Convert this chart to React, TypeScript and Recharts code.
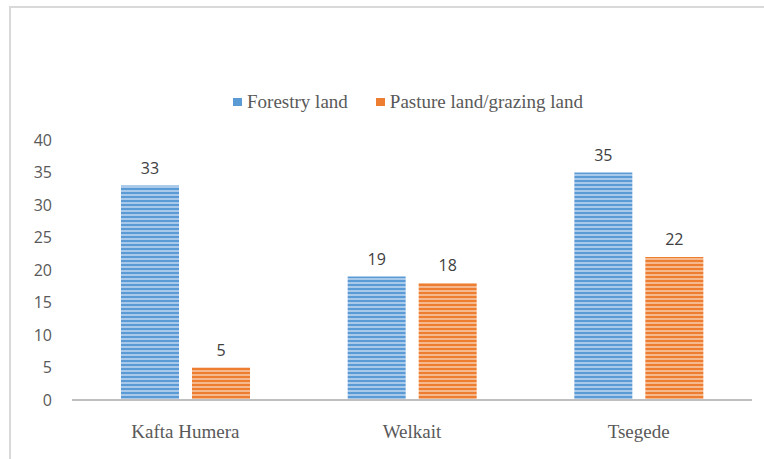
import React from 'react';
import {
	BarChart, Bar, XAxis, YAxis, LabelList,
} from 'recharts';

const districts = ['Kafta Humera', 'Welkait', 'Tsegede'];
const forestryLand = [33, 19, 35];
const pastureLand = [5, 18, 22];
const yTicks = [0, 5, 10, 15, 20, 25, 30, 35, 40];

const data = districts.map((name, i) => ({
	name,
	forestry: forestryLand[i],
	pasture: pastureLand[i],
}));

const legendItems = [
	{ label: 'Forestry land', color: '#5b9bd5' },
	{ label: 'Pasture land/grazing land', color: '#ed7d31' },
];

const sans = '"Open Sans", sans-serif';
const serif = '"Liberation Serif", "Times New Roman", serif';

export default function App() {
	return (
		<div style={{ position: 'absolute', left: 0, top: 0, width: 764, height: 459, background: '#fff' }}>
			{/* frame line only on top and left, like the cropped source */}
			<div style={{
				position: 'absolute', left: 9, top: 6, right: 0, bottom: 0,
				borderTop: '2px solid #d9d9d9', borderLeft: '2px solid #d9d9d9',
			}} />

			<div style={{
				position: 'absolute', top: 90, left: 26, width: 764,
				display: 'flex', justifyContent: 'center', gap: 28,
				fontFamily: serif, fontSize: 19, lineHeight: '24px', color: '#595959',
			}}>
				{legendItems.map((item) => (
					<div key={item.label} style={{ display: 'flex', alignItems: 'center', gap: 5 }}>
						<span style={{ width: 9, height: 8, background: item.color, display: 'inline-block' }} />
						<span>{item.label}</span>
					</div>
				))}
			</div>

			<div style={{ position: 'absolute', left: 0, top: 0 }}>
				<BarChart
					width={764}
					height={459}
					data={data}
					margin={{ top: 140, right: 12, left: 0, bottom: 29 }}
					barGap={13}
					barSize={58}
				>
					<defs>
						<pattern id="stripeBlue" width="8" height="4" patternUnits="userSpaceOnUse">
							<rect width="8" height="4" fill="#a9c9ea" />
							<rect width="8" height="2" fill="#5b9bd5" />
						</pattern>
						<pattern id="stripeOrange" width="8" height="4" patternUnits="userSpaceOnUse">
							<rect width="8" height="4" fill="#f6b88d" />
							<rect width="8" height="2" fill="#ed7d31" />
						</pattern>
					</defs>
					<XAxis
						dataKey="name"
						axisLine={{ stroke: '#bfbfbf', strokeWidth: 2 }}
						tickLine={false}
						tickSize={0}
						tickMargin={25}
						height={30}
						tick={{ fontSize: 19, fill: '#595959', fontFamily: serif }}
					/>
					<YAxis
						domain={[0, 40]}
						ticks={yTicks}
						interval={0}
						width={72}
						axisLine={false}
						tickLine={false}
						tickSize={0}
						tickMargin={20}
						tick={{ fontSize: 16, fill: '#595959', fontFamily: sans }}
					/>
					<Bar dataKey="forestry" fill="url(#stripeBlue)" isAnimationActive={false}>
						<LabelList dataKey="forestry" position="top" offset={12}
							style={{ fontSize: 16, fill: '#404040', fontFamily: sans }} />
					</Bar>
					<Bar dataKey="pasture" fill="url(#stripeOrange)" isAnimationActive={false}>
						<LabelList dataKey="pasture" position="top" offset={12}
							style={{ fontSize: 16, fill: '#404040', fontFamily: sans }} />
					</Bar>
				</BarChart>
			</div>
		</div>
	);
}
